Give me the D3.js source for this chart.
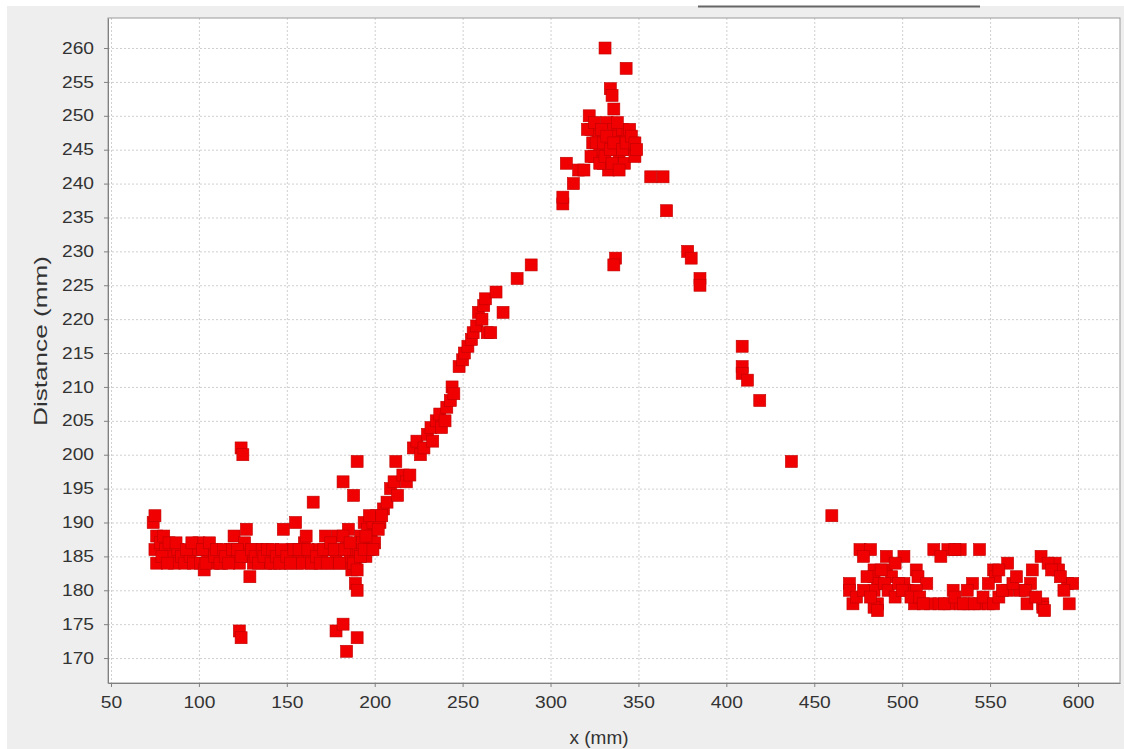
<!DOCTYPE html>
<html>
<head>
<meta charset="utf-8">
<script src="https://cdn.jsdelivr.net/npm/d3@7"></script>
<style>
  body { margin: 0; background: #fff; }
  text { font-family: "Liberation Sans", Arial, sans-serif; }
</style>
</head>
<body>
<div id="main_div"></div>
<script>
// tick values
var xTicks = [50, 100, 150, 200, 250, 300, 350, 400, 450, 500, 550, 600];
var yTicks = [170, 175, 180, 185, 190, 195, 200, 205, 210, 215, 220, 225, 230, 235, 240, 245, 250, 255, 260];

var leftBand = [[74,190],[75,191],[76,188],[75,186],[76,184],[78,187],[80,188],[81,186],[83,187],[84,185],
  [86,184],[88,186],[90,185],[92,184],[95,185],[97,184],[99,186],[100,187],[101,184],[103,183],[105,185],
  [107,186],[108,184],[111,185],[113,184],[116,185],[118,186],[120,188],[121,185],[123,184],[125,186],
  [126,187],[127,189],[128,185],[129,182],[131,184],[133,186],[135,185],[138,184],[140,185],[143,184],
  [145,185],[148,189],[149,184],[151,185],[153,186],[155,190],[156,184],[158,185],[160,187],[161,188],
  [163,185],[165,193],[166,184],[168,186],[170,185],[172,188],[174,186],[176,184],[178,185],[179,188],
  [181,186],[183,184],[184,187],[185,189],[186,185],[187,183],[188,186],[189,181],[189,184],[190,180],
  [191,186],[192,188],[193,187],[194,190],[195,185],[196,189],[197,186],[198,188],[199,190],[200,187],
  [201,191],[203,190],[205,192],[207,193],[209,195],[211,196],[213,194],[216,197],[218,196],
  [79,185],[82,184],[87,187],[93,186],[96,187],[102,186],[104,184],[106,187],[109,185],[110,186],
  [112,184],[114,186],[115,185],[117,184],[119,186],[122,186],[124,185],[130,186],[132,185],[134,184],
  [136,186],[137,185],[139,186],[141,184],[142,186],[144,185],[146,184],[147,186],[150,185],[152,184],
  [154,186],[157,186],[159,184],[162,186],[164,184],[167,185],[169,184],[171,186],[173,184],[175,187],
  [177,186],[180,184],[182,188],[183,186],[186,187],[188,184],[190,183],[192,185],[194,186],[195,188],
  [197,191],[199,186],[202,189],[204,191]];
var leftOutliers = [[124,201],[125,200],[123,174],[124,173],[178,174],[182,175],[184,171],[190,173],
  [182,196],[190,199],[188,194],[212,199]];
var rise = [[220,197],[222,201],[224,202],[226,200],[228,201],[230,203],[232,204],[233,202],[235,205],
  [237,206],[238,204],[240,205],[241,207],[243,208],[244,210],[245,209],[248,213],[250,214],[251,215],
  [253,216],[255,217],[256,218],[258,219],[259,221],[261,220],[262,222],[263,223],[264,218],[266,218],
  [269,224],[273,221],[281,226],[289,228]];
var peak = [[307,237],[307,238],[309,243],[313,240],[316,242],[319,242],[322,250],[323,248],[324,246],
  [325,244],[327,247],[328,245],[330,243],[331,260],[332,249],[333,242],[333,246],[334,254],[335,253],
  [336,251],[336,248],[337,245],[338,247],[339,244],[340,246],[341,248],[342,243],[343,257],[344,247],
  [346,245],[347,246],[348,244],[337,229],[336,228],
  [321,248],[323,244],[325,249],[326,246],[328,243],[329,248],[330,246],[331,244],[332,247],[334,245],
  [335,243],[336,246],[338,249],[339,242],[341,245],[343,246],[345,248],[346,247],[348,246],[349,245]];
var fall = [[357,241],[364,241],[366,236],[378,230],[380,229],[385,226],[385,225],[409,216],[409,213],
  [409,212],[412,211],[419,208],[437,199],[460,191]];
var rightBand = [[476,186],[482,186],[518,186],[526,186],[533,186],[544,186],[491,185],[501,185],[579,185],
  [560,184],[587,184],[484,183],[491,183],[508,183],[552,183],[574,183],[589,183],
  [484,182],[494,182],[509,182],[553,182],[594,181],
  [470,181],[486,181],[501,181],[514,181],[540,181],[549,181],[573,181],[597,181],
  [470,180],[484,180],[503,180],[508,180],[529,180],[537,180],[560,180],[567,180],
  [472,178],[486,178],[507,178],[516,178],[521,178],[527,178],[533,178],[538,178],[544,178],[549,178],
  [571,178],[580,178],[595,178],[484,177.5],[580,177.5],[486,177],[581,177],
  [474,179],[478,180],[480,182],[482,179],[488,183],[490,181],[492,180],[496,179],[498,181],[500,180],
  [505,179],[510,179],[512,178],[524,178],[530,179],[535,178],[541,178],[546,179],[552,178],[555,179],
  [557,180],[563,181],[565,182],[570,180],[576,179],[583,184],[585,183],[590,182],[592,180],[478,185],
  [496,184],[522,185],[530,186],[555,183]];

var W = 1124, H = 749;
var margin = {top: 18, right: 4, bottom: 66, left: 108},
    width = W - margin.left - margin.right,
    height = H - margin.top - margin.bottom;

var x = d3.scaleLinear().domain([48.3, 623.9]).range([0, width]);
var y = d3.scaleLinear().domain([166.32, 264.43]).range([height, 0]);

var svg = d3.select("#main_div").append("svg")
    .attr("width", W)
    .attr("height", H)
    .style("display", "block");

// panel background
svg.append("rect").attr("x", 7).attr("y", 6).attr("width", W - 7).attr("height", H - 6).attr("fill", "#eeeeee");
svg.append("line").attr("x1", 698).attr("x2", 980).attr("y1", 6.5).attr("y2", 6.5)
    .attr("stroke", "#666").attr("stroke-width", 2);

var g = svg.append("g").attr("transform", "translate(" + margin.left + "," + margin.top + ")");

g.append("rect").attr("width", width).attr("height", height).attr("fill", "#fff");

// grid
g.selectAll(".vgrid").data(xTicks).enter().append("line")
    .attr("x1", function(d){ return x(d) + 0.5; }).attr("x2", function(d){ return x(d) + 0.5; })
    .attr("y1", 0).attr("y2", height)
    .attr("stroke", "#cfcfcf").attr("stroke-dasharray", "2,2");
g.selectAll(".hgrid").data(yTicks).enter().append("line")
    .attr("y1", function(d){ return y(d) + 0.5; }).attr("y2", function(d){ return y(d) + 0.5; })
    .attr("x1", 0).attr("x2", width)
    .attr("stroke", "#cfcfcf").attr("stroke-dasharray", "2,2");

// points
var pts = [].concat(leftBand, leftOutliers, rise, peak, fall, rightBand);
var s = 12;
g.selectAll(".pt").data(pts).enter().append("rect")
    .attr("x", function(d){ return x(d[0]) - s / 2; })
    .attr("y", function(d){ return y(d[1]) - s / 2; })
    .attr("width", s).attr("height", s)
    .attr("fill", "#f00000")
    .attr("stroke", "#c00000").attr("stroke-width", 0.6);

// outline
g.append("rect").attr("width", width).attr("height", height)
    .attr("fill", "none").attr("stroke", "#999");

// axes
var xAxis = g.append("g").attr("transform", "translate(0," + height + ")")
    .call(d3.axisBottom(x).tickValues(xTicks).tickSize(4).tickPadding(10).tickSizeOuter(0));
var yAxis = g.append("g")
    .call(d3.axisLeft(y).tickValues(yTicks).tickSize(4).tickPadding(10).tickSizeOuter(0));

[xAxis, yAxis].forEach(function(a){
    a.select(".domain").attr("stroke", "#808080");
    a.selectAll(".tick line").attr("stroke", "#808080");
    a.selectAll(".tick text").attr("fill", "#333").style("font-size", "16px")
        .each(function(){
            var w = this.getComputedTextLength();
            d3.select(this).attr("textLength", w * 1.2).attr("lengthAdjust", "spacingAndGlyphs");
        });
});

// axis titles
svg.append("text")
    .attr("x", 599).attr("y", 744)
    .attr("text-anchor", "middle").attr("fill", "#333").style("font-size", "19px")
    .text("x (mm)");
svg.append("text")
    .attr("transform", "translate(47," + 341 + ") rotate(-90)")
    .attr("text-anchor", "middle").attr("fill", "#333").style("font-size", "18px")
    .attr("textLength", 170).attr("lengthAdjust", "spacingAndGlyphs")
    .text("Distance (mm)");
</script>
</body>
</html>
